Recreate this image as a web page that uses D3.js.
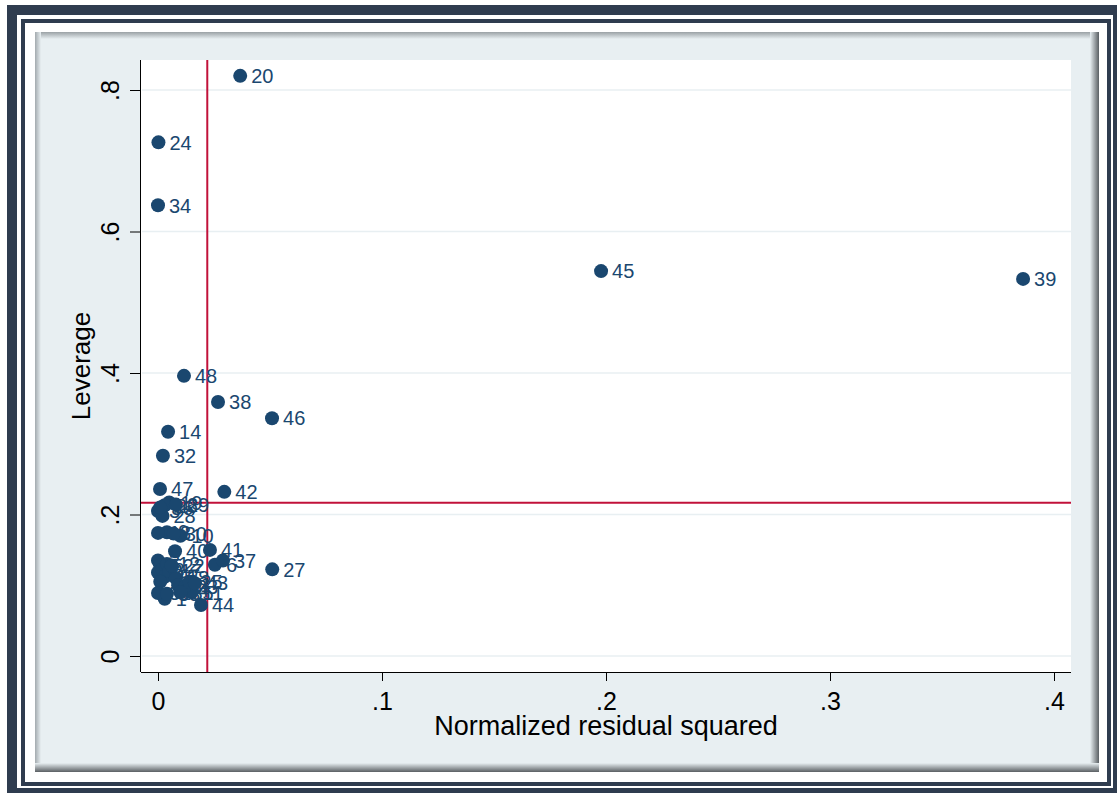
<!DOCTYPE html>
<html>
<head>
<meta charset="utf-8">
<script src="https://cdn.jsdelivr.net/npm/d3@7"></script>
<style>
  body { margin: 0; background: #fff; }
  text { font-family: "Liberation Sans", Arial, sans-serif; }
</style>
</head>
<body>
<script>
/* Data: observation id, normalized residual squared, leverage */
const obsIds = [1, 2, 3, 4, 5, 6, 7, 8, 9, 10, 11, 12, 13, 14, 15, 16, 17, 18, 19, 20, 21, 22, 23, 24,
  25, 26, 27, 28, 29, 30, 31, 32, 33, 34, 35, 36, 37, 38, 39, 40, 41, 42, 43, 44, 45, 46, 47, 48];
const residSq = [0.003, 0.000, 0.000, 0.013, 0.001, 0.0254, 0.000, 0.002, 0.004, 0.010, 0.015, 0.004,
  0.000, 0.0045, 0.003, 0.001, 0.005, 0.008, 0.005, 0.0367, 0.009, 0.006, 0.012, 0.0002,
  0.014, 0.003, 0.051, 0.002, 0.008, 0.007, 0.000, 0.0022, 0.004, 0.000, 0.010, 0.001,
  0.029, 0.0268, 0.3862, 0.0076, 0.0232, 0.0296, 0.0165, 0.0192, 0.1978, 0.0509, 0.0009, 0.0116];
const leverage = [0.081, 0.135, 0.205, 0.094, 0.128, 0.129, 0.118, 0.122, 0.175, 0.170, 0.090, 0.130,
  0.174, 0.317, 0.112, 0.105, 0.120, 0.110, 0.217, 0.820, 0.100, 0.128, 0.098, 0.726,
  0.105, 0.213, 0.1225, 0.198, 0.214, 0.173, 0.089, 0.283, 0.088, 0.637, 0.090, 0.210,
  0.135, 0.359, 0.533, 0.148, 0.150, 0.232, 0.103, 0.072, 0.544, 0.336, 0.236, 0.396];

/* Reference lines (means) */
const meanResid = 0.022;
const meanLev = 0.2165;

/* Ticks */
const xTicks = [0, 0.1, 0.2, 0.3, 0.4];
const yTicks = [0, 0.2, 0.4, 0.6, 0.8];

const data = obsIds.map((id, i) => ({ id: id, x: residSq[i], y: leverage[i] }));

/* Constants */
const W = 1119, H = 793;
const PLOT = { left: 141, right: 1071, top: 60, bottom: 672 };
const NAVY = "#1a476f";
const BG = "#e8eff2";
const RED = "#c1113a";

const svg = d3.select("body").append("svg")
  .attr("width", W)
  .attr("height", H);

/* Frame */
const defs = svg.append("defs");
let grad = (id, x2, y2, c0, c1) => {
  const g = defs.append("linearGradient").attr("id", id)
    .attr("x1", 0).attr("y1", 0).attr("x2", x2).attr("y2", y2);
  g.append("stop").attr("offset", "0%").attr("stop-color", c0);
  g.append("stop").attr("offset", "100%").attr("stop-color", c1);
};
grad("shTop", 0, 1, "#9aa1a5", BG);
grad("shLeft", 1, 0, "#a3aaae", BG);
grad("shRight", 1, 0, BG, "#5a5f63");
grad("shBottom", 0, 1, BG, "#5a5f63");

svg.append("rect").attr("x", 7).attr("y", 5).attr("width", 1110).attr("height", 800).style("fill", "#2f3c4f");
svg.append("rect").attr("x", 17).attr("y", 15).attr("width", 1096).attr("height", 773).style("fill", "#fff");
svg.append("rect").attr("x", 21).attr("y", 19).attr("width", 1090).attr("height", 767).style("fill", "#2f3c4f");
svg.append("rect").attr("x", 25).attr("y", 23).attr("width", 1082).attr("height", 759).style("fill", "#fff");

svg.append("rect").attr("x", 35).attr("y", 32).attr("width", 1064).attr("height", 740).style("fill", BG);
svg.append("rect").attr("x", 35).attr("y", 32).attr("width", 1064).attr("height", 7).style("fill", "url(#shTop)");
svg.append("rect").attr("x", 35).attr("y", 32).attr("width", 6).attr("height", 740).style("fill", "url(#shLeft)");
svg.append("rect").attr("x", 1090).attr("y", 32).attr("width", 9).attr("height", 740).style("fill", "url(#shRight)");
svg.append("rect").attr("x", 35).attr("y", 763).attr("width", 1064).attr("height", 9).style("fill", "url(#shBottom)");

/* Plot region */
svg.append("rect")
  .attr("x", PLOT.left).attr("y", PLOT.top)
  .attr("width", PLOT.right - PLOT.left).attr("height", PLOT.bottom - PLOT.top)
  .style("fill", "#fff");

/* Scales */
const xScale = d3.scaleLinear().domain([0, 0.4]).range([158, 1054]);
const yScale = d3.scaleLinear().domain([0, 0.8]).range([656, 90]);

const fmt = d => d === 0 ? "0" : d3.format(".1f")(d).replace(/^0/, "");

/* Grid */
svg.append("g").selectAll("line")
  .data(yTicks)
  .enter()
  .append("line")
  .attr("x1", PLOT.left + 1).attr("x2", PLOT.right)
  .attr("y1", d => yScale(d)).attr("y2", d => yScale(d))
  .style("stroke", BG)
  .style("stroke-width", 1.6);

/* Reference lines */
svg.append("line")
  .attr("x1", xScale(meanResid)).attr("x2", xScale(meanResid))
  .attr("y1", PLOT.top).attr("y2", PLOT.bottom)
  .style("stroke", RED).style("stroke-width", 2);
svg.append("line")
  .attr("x1", PLOT.left).attr("x2", PLOT.right)
  .attr("y1", yScale(meanLev)).attr("y2", yScale(meanLev))
  .style("stroke", RED).style("stroke-width", 2);

/* Axes */
const xAxis = d3.axisBottom(xScale).tickValues(xTicks).tickFormat(fmt).tickSize(9).tickPadding(10);
const yAxis = d3.axisLeft(yScale).tickValues(yTicks).tickFormat(fmt).tickSize(11);

const gx = svg.append("g")
  .attr("id", "x-axis")
  .attr("transform", "translate(0," + PLOT.bottom + ")")
  .call(xAxis);
gx.select(".domain").attr("d", "M" + PLOT.left + ",0.5H" + PLOT.right).style("stroke", "#000");
gx.selectAll(".tick line").style("stroke", "#000");
gx.selectAll(".tick text")
  .attr("y", 38)
  .attr("dy", null)
  .style("font-size", "25px")
  .style("font-family", "'Liberation Sans', Arial, sans-serif")
  .style("fill", "#000");

const gy = svg.append("g")
  .attr("id", "y-axis")
  .attr("transform", "translate(" + PLOT.left + ",0)")
  .call(yAxis);
gy.select(".domain").attr("d", "M-0.5," + PLOT.top + "V" + PLOT.bottom).style("stroke", "#000");
gy.selectAll(".tick line").style("stroke", "#000");
gy.selectAll(".tick text")
  .attr("x", null).attr("dy", null)
  .attr("text-anchor", "middle")
  .attr("transform", "translate(-22,0) rotate(-90)")
  .style("font-size", "25px")
  .style("font-family", "'Liberation Sans', Arial, sans-serif")
  .style("fill", "#000");

/* Axis titles */
svg.append("text")
  .attr("x", (PLOT.left + PLOT.right) / 2)
  .attr("y", 735)
  .attr("text-anchor", "middle")
  .style("font-size", "27px")
  .text("Normalized residual squared");

svg.append("text")
  .attr("transform", "translate(90," + ((PLOT.top + PLOT.bottom) / 2) + ") rotate(-90)")
  .attr("text-anchor", "middle")
  .style("font-size", "26px")
  .text("Leverage");

/* Points */
svg.selectAll(".dot")
  .data(data)
  .enter()
  .append("circle")
  .attr("class", "dot")
  .attr("cx", d => xScale(d.x))
  .attr("cy", d => yScale(d.y))
  .attr("r", 7)
  .style("fill", NAVY);

svg.selectAll(".lbl")
  .data(data)
  .enter()
  .append("text")
  .attr("class", "lbl")
  .attr("x", d => xScale(d.x) + 11)
  .attr("y", d => yScale(d.y))
  .attr("dy", "0.36em")
  .style("font-size", "20px")
  .style("fill", NAVY)
  .text(d => d.id);
</script>
</body>
</html>
